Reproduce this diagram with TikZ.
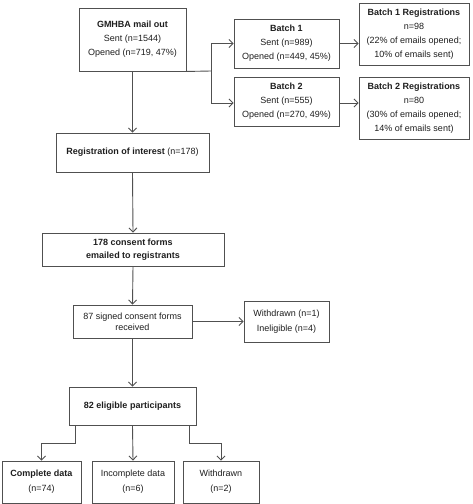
\documentclass[tikz,border=0pt]{standalone}
\usepackage{fontspec}
\setmainfont{Liberation Sans}
\usetikzlibrary{arrows.meta}
\definecolor{ln}{HTML}{505050}
\definecolor{tx}{HTML}{1E1E1E}
\begin{document}
\begin{tikzpicture}[x=1pt,y=-1pt,
  box/.style={draw=ln,line width=0.9pt,rectangle,inner sep=0pt,align=center,
    text=tx,font=\fontsize{9}{14}\selectfont},
  arr/.style={draw=ln,line width=0.9pt,-{Straight Barb[length=4pt,width=8pt]}},
  ln/.style={draw=ln,line width=0.9pt}]
\useasboundingbox (0,0) rectangle (472,504);
\node[box,minimum width=107pt,minimum height=63pt] (g) at (132.5,39.5)
  {\textbf{GMHBA mail out}\\Sent (n=1544)\\Opened (n=719, 47\%)};
\node[box,minimum width=105pt,minimum height=49pt] (b1) at (286.5,43.5)
  {\textbf{Batch 1}\\Sent (n=989)\\Opened (n=449, 45\%)};
\node[box,minimum width=105pt,minimum height=49pt] (b2) at (286.5,101.5)
  {\textbf{Batch 2}\\Sent (n=555)\\Opened (n=270, 49\%)};
\node[box,minimum width=110pt,minimum height=62pt] (r1) at (414,34)
  {\textbf{Batch 1 Registrations}\\n=98\\(22\% of emails opened;\\10\% of emails sent)};
\node[box,minimum width=110pt,minimum height=62pt] (r2) at (414,108)
  {\textbf{Batch 2 Registrations}\\n=80\\(30\% of emails opened;\\14\% of emails sent)};
\node[box,minimum width=153pt,minimum height=39pt] (ri) at (132.5,152.5)
  {\textbf{Registration of interest} (n=178)};
\node[box,minimum width=182pt,minimum height=33pt,font=\fontsize{9}{13}\selectfont] (cf) at (133,249.5)
  {\textbf{178 consent forms}\\\textbf{emailed to registrants}};
\node[box,minimum width=119pt,minimum height=33pt,font=\fontsize{9}{11}\selectfont] (sc) at (132.5,321.5)
  {87 signed consent forms\\received};
\node[box,minimum width=85pt,minimum height=41pt,font=\fontsize{9}{15}\selectfont] (wi) at (286.5,321.5)
  {Withdrawn (n=1)\\Ineligible (n=4)};
\node[box,minimum width=127pt,minimum height=38pt] (el) at (132.5,406)
  {\textbf{82 eligible participants}};
\node[box,minimum width=79pt,minimum height=42pt,font=\fontsize{9}{15}\selectfont] (cd) at (41.5,482)
  {\textbf{Complete data}\\(n=74)};
\node[box,minimum width=82pt,minimum height=42pt,font=\fontsize{9}{15}\selectfont] (id) at (133,482)
  {Incomplete data\\(n=6)};
\node[box,minimum width=76pt,minimum height=42pt,font=\fontsize{9}{15}\selectfont] (wd) at (221,482)
  {Withdrawn\\(n=2)};
\coordinate (split) at (211,71);
\draw[ln] (g.south east) -- (split);
\draw[arr] (split) |- (b1.west);
\draw[arr] (split) |- ([yshift=-1.5pt]b2.west);
\draw[arr] (b1.east) -- (b1.east -| r1.west);
\draw[arr] ([yshift=-1.5pt]b2.east) -- ([yshift=-1.5pt]b2.east -| r2.west);
\draw[arr] (g.south) -- (ri.north);
\draw[arr] (ri.south) -- (cf.north);
\draw[arr] (cf.south) -- (sc.north);
\draw[arr] (sc.east) -- (sc.east -| wi.west);
\draw[arr] (sc.south) -- (el.north);
\draw[arr] ([xshift=7pt]el.south west) -- ++(0,18) -| (cd.north);
\draw[arr] (el.south) -- (id.north);
\draw[arr] ([xshift=-7pt]el.south east) -- ++(0,18) -| (wd.north);
\end{tikzpicture}
\end{document}
